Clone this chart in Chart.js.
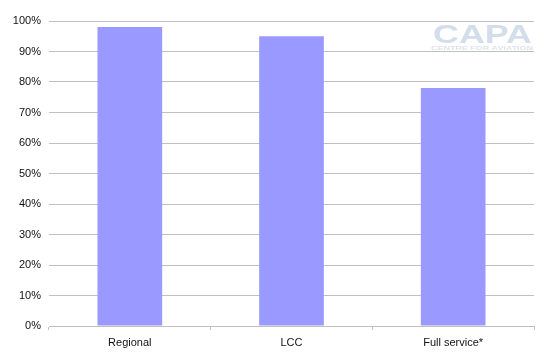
<!DOCTYPE html>
<html>
<head>
<meta charset="utf-8">
<script src="https://cdn.jsdelivr.net/npm/chart.js@4/dist/chart.umd.min.js"></script>
<style>
  html, body { margin: 0; padding: 0; background: #fff; }
  #wrap { width: 547px; height: 361px; }
</style>
</head>
<body>
<div id="wrap"><canvas id="barChart" width="547" height="361"></canvas></div>
<script>
var categories = ["Regional", "LCC", "Full service*"];
var shares = [98, 95, 78];
var yTicks = [0, 10, 20, 30, 40, 50, 60, 70, 80, 90, 100];

var gridGrey = "#c0c0c0";
var fontSpec = { family: "'Liberation Sans', Arial, sans-serif", size: 11 };

// faint CAPA watermark in the top right corner
var capaLogo = {
  id: "capaLogo",
  beforeDatasetsDraw: function (chart) {
    var c = chart.ctx;
    c.save();
    c.fillStyle = "#d3deea";
    c.textBaseline = "alphabetic";
    c.font = "bold 25px 'Liberation Sans', Arial, sans-serif";
    var w = c.measureText("CAPA").width;
    c.translate(433, 43);
    c.scale(99 / w, 1);
    c.fillText("CAPA", 0, 0);
    c.restore();

    c.save();
    c.fillStyle = "#dbe4ee";
    c.font = "bold 6px 'Liberation Sans', Arial, sans-serif";
    var w2 = c.measureText("CENTRE FOR AVIATION").width;
    c.translate(431, 50);
    c.scale(102 / w2, 1);
    c.fillText("CENTRE FOR AVIATION", 0, 0);
    c.restore();
  }
};

var ctx = document.getElementById("barChart").getContext("2d");

var myChart = new Chart(ctx, {
  type: "bar",
  data: {
    labels: categories,
    datasets: [
      {
        label: "Share",
        data: shares,
        backgroundColor: "#9999ff",
        borderWidth: 0,
        barPercentage: 0.4,
        categoryPercentage: 1,
      },
    ],
  },
  options: {
    responsive: false,
    animation: false,
    layout: { padding: { top: 21, right: 13, left: 0, bottom: 0 } },
    plugins: {
      legend: { display: false },
      tooltip: { enabled: false },
    },
    scales: {
      x: {
        grid: {
          display: true,
          drawOnChartArea: false,
          drawTicks: true,
          tickLength: 4,
          color: gridGrey,
        },
        border: { display: true, color: gridGrey },
        ticks: { color: "#111", font: fontSpec, padding: 6 },
        afterFit: function (scale) { scale.height = 35; },
      },
      y: {
        min: 0,
        max: 100,
        afterBuildTicks: function (scale) {
          scale.ticks = yTicks.map(function (v) { return { value: v }; });
        },
        grid: { color: gridGrey, drawTicks: false },
        border: { display: false },
        ticks: {
          color: "#111",
          font: fontSpec,
          padding: 8,
          callback: function (v) { return v + "%"; },
        },
        afterFit: function (scale) { scale.width = 49; },
      },
    },
  },
  plugins: [capaLogo],
});
</script>
</body>
</html>
